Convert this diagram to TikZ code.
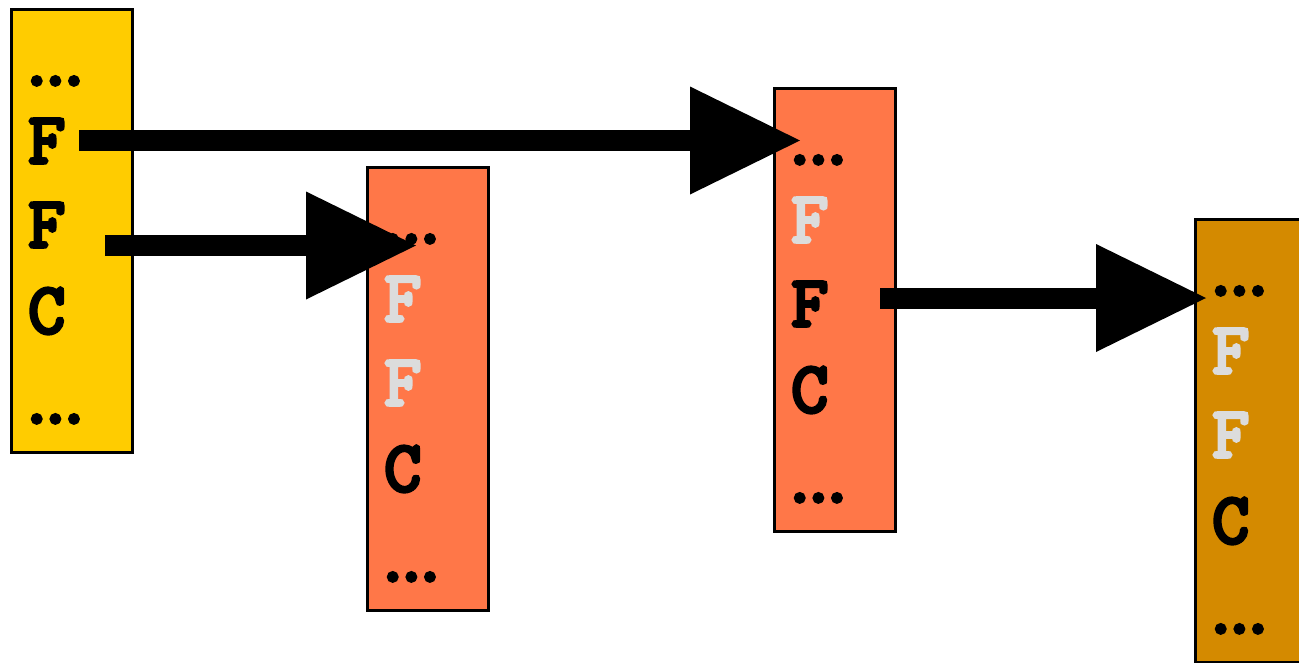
\documentclass[tikz,border=0pt]{standalone}
\usepackage{fontspec}
\newfontfamily\cellfont{Latin Modern Mono}[FakeBold=5]
\usetikzlibrary{arrows.meta}
\definecolor{cyellow}{HTML}{FFCC00}
\definecolor{corange}{HTML}{FF7748}
\definecolor{cdark}{HTML}{D48A00}
\definecolor{cgray}{HTML}{DCDCDC}
\newcommand{\dotsx}{.\kern-18.5pt.\kern-18.5pt.}
\tikzset{
  stack/.style={draw=black,line width=3pt,minimum width=121pt,minimum height=443pt,anchor=north west,inner sep=0pt},
  cell/.style={anchor=base west,inner sep=0pt,font=\cellfont\bfseries\fontsize{72}{72}\selectfont},
  dim/.style={cell,text=cgray},
  bigarrow/.style={line width=21pt,-{Triangle[length=110pt,width=108pt,line width=0pt]}},
}
\begin{document}
\begin{tikzpicture}[x=1pt,y=-1pt]
\useasboundingbox (0,0) rectangle (1299,662);
\clip (0,0) rectangle (1299,662);
\node[stack,fill=cyellow] (s1) at (10,8) {};
\node[stack,fill=corange] (s2) at (366,166) {};
\node[stack,fill=corange] (s3) at (773,87) {};
\node[stack,fill=cdark] (s4) at (1194,218) {};
% stack 1
\node[cell] (a1) at (18,85) {\dotsx};
\node[cell] (a2) at (28,163) {F};
\node[cell] (a3) at (28,247) {F};
\node[cell] (a4) at (28,333) {C};
\node[cell] (a5) at (18,423) {\dotsx};
% stack 2
\node[cell] (b1) at (374,243) {\dotsx};
\node[dim] (b2) at (384,321) {F};
\node[dim] (b3) at (384,405) {F};
\node[cell] (b4) at (384,491) {C};
\node[cell] (b5) at (374,581) {\dotsx};
% stack 3
\node[cell] (c1) at (781,164) {\dotsx};
\node[dim] (c2) at (791,242) {F};
\node[cell] (c3) at (791,326) {F};
\node[cell] (c4) at (791,412) {C};
\node[cell] (c5) at (781,502) {\dotsx};
% stack 4
\node[cell] (d1) at (1202,295) {\dotsx};
\node[dim] (d2) at (1212,373) {F};
\node[dim] (d3) at (1212,457) {F};
\node[cell] (d4) at (1212,543) {C};
\node[cell] (d5) at (1202,633) {\dotsx};
% arrows
\coordinate (p1) at (79,140.5);
\coordinate (q1) at (800,140.5);
\coordinate (p2) at (105,245.5);
\coordinate (q2) at (416,245.5);
\coordinate (p3) at (880,298);
\coordinate (q3) at (1206,298);
\draw[bigarrow] (p1) -- (q1);
\draw[bigarrow] (p2) -- (q2);
\draw[bigarrow] (p3) -- (q3);
\end{tikzpicture}
\end{document}
